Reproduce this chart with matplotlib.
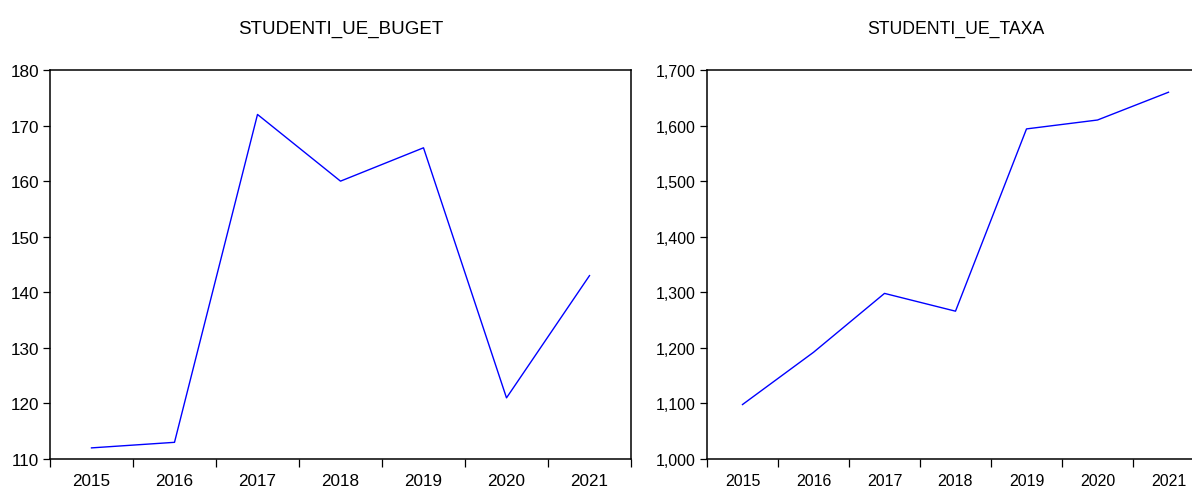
import matplotlib
matplotlib.use('Agg')
from matplotlib import pyplot as plt
from matplotlib import font_manager
import matplotlib.ticker as mticker

years = ['2015', '2016', '2017', '2018', '2019', '2020', '2021']
buget = [112, 113, 172, 160, 166, 121, 143]
taxa = [1098, 1192, 1298, 1266, 1594, 1610, 1660]

names = {f.name for f in font_manager.fontManager.ttflist}
narrow = 'Liberation Sans Narrow' if 'Liberation Sans Narrow' in names else 'Liberation Sans'
plt.rcParams['font.family'] = ['Liberation Sans', 'DejaVu Sans']


def draw(ax, values, title, ylim, ystep, fmt, family, size):
    x = list(range(len(values)))
    ax.plot(x, values, color='#0000ff', linewidth=1.0)
    ax.set_xlim(-0.5, len(values) - 0.5)
    ax.set_ylim(*ylim)
    ax.set_xticks(x)
    ax.set_xticklabels(years, family=family, fontsize=size)
    ax.set_xticks([i - 0.5 for i in range(len(values) + 1)], minor=True)
    ax.tick_params(axis='x', which='major', length=0, pad=10)
    ax.tick_params(axis='x', which='minor', length=6, width=0.9, direction='out')
    ax.yaxis.set_major_locator(mticker.MultipleLocator(ystep))
    ax.yaxis.set_major_formatter(mticker.FuncFormatter(fmt))
    ax.tick_params(axis='y', length=5, width=0.9, pad=3, labelsize=size)
    for lab in ax.get_yticklabels():
        lab.set_family(family)
    for s in ax.spines.values():
        s.set_linewidth(1.1)
    ax.set_title(title, fontsize=size + 1.2, pad=27, family=family)


fig = plt.figure(figsize=(11.92, 4.89), dpi=100)
ax1 = fig.add_axes([50 / 1192, 29 / 489, 581 / 1192, 389 / 489])
ax2 = fig.add_axes([707 / 1192, 29 / 489, 497 / 1192, 389 / 489])

draw(ax1, buget, 'STUDENTI_UE_BUGET', (110, 180), 10, lambda v, p: '%d' % v, 'Liberation Sans', 12.3)
draw(ax2, taxa, 'STUDENTI_UE_TAXA', (1000, 1700), 100, lambda v, p: '{:,.0f}'.format(v), narrow, 11.5)
ax2.spines['right'].set_visible(False)

fig.savefig('out.png', dpi=100)
